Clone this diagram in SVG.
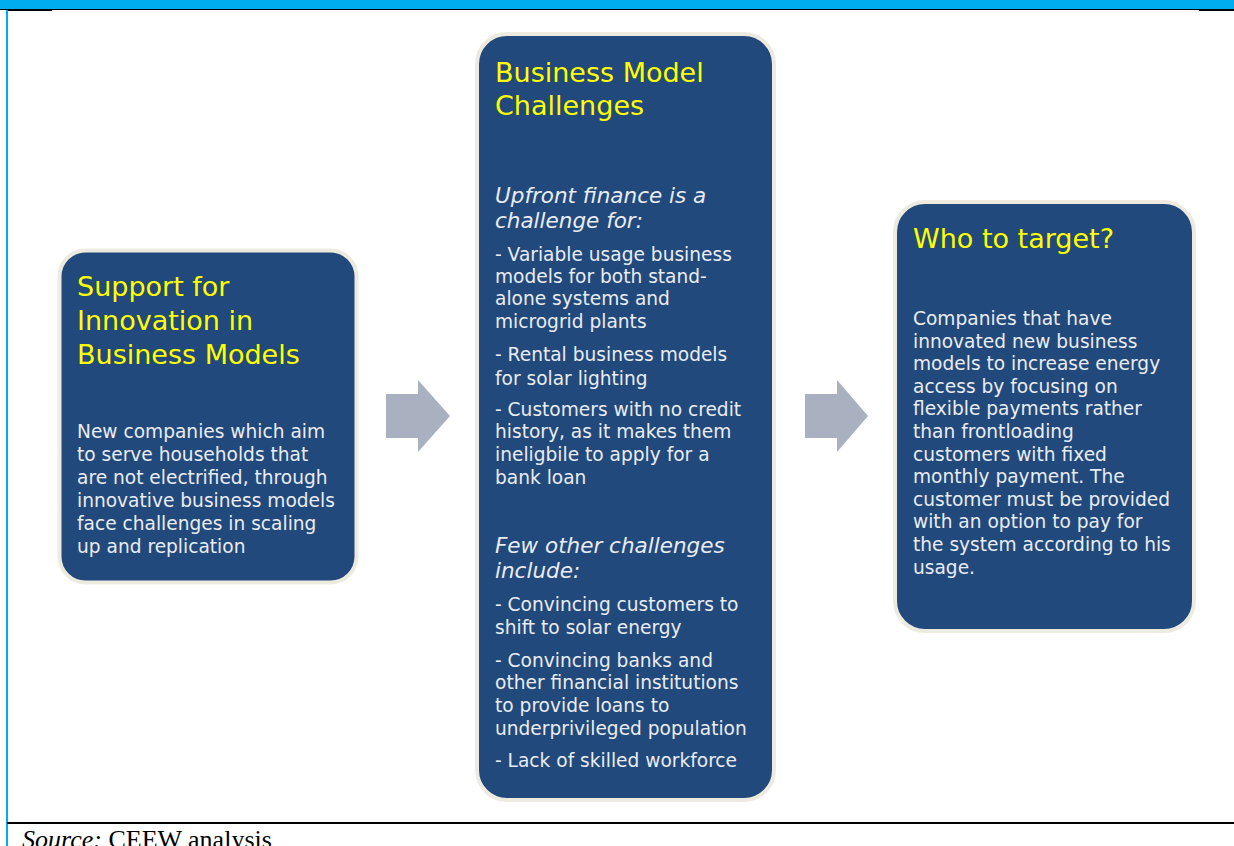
<svg xmlns="http://www.w3.org/2000/svg" width="1234" height="846" viewBox="0 0 1234 846">
<style>
.box{fill:#22497B;stroke:#EDEBE0;stroke-width:4}
.ttl{font-family:"DejaVu Sans",Verdana,sans-serif;font-size:27px;fill:#FFFF00}
.bd{font-family:"DejaVu Sans",Verdana,sans-serif;font-size:18.6px;fill:#E9ECF2}
.it{font-family:"DejaVu Sans",Verdana,sans-serif;font-size:21.5px;font-style:italic;fill:#E9ECF2}
.arr{fill:#A9B0C0}
</style>
<rect x="0" y="0" width="1234" height="846" fill="#FFFFFF"/>
<g id="frame">
<rect x="0" y="0" width="1234" height="9" fill="#00AEEF"/>
<line x1="0" y1="9.5" x2="1234" y2="9.5" stroke="#000" stroke-width="1"/>
<line x1="7" y1="10" x2="52" y2="10" stroke="#000" stroke-width="2"/>
<line x1="1199" y1="10" x2="1234" y2="10" stroke="#000" stroke-width="2"/>
<line x1="7" y1="10" x2="7" y2="846" stroke="#00AEEF" stroke-width="2"/>
<line x1="7" y1="823" x2="1234" y2="823" stroke="#000" stroke-width="2"/>
<text x="22" y="848" font-family="Liberation Serif,serif" font-size="26" fill="#000"><tspan font-style="italic">Source:</tspan> CEEW analysis</text>
</g>
<g id="node-support">
<rect class="box" x="59.5" y="250.5" width="297" height="332" rx="26"/>
<text class="ttl"><tspan x="77" y="296">Support for</tspan><tspan x="77" y="330">Innovation in</tspan><tspan x="77" y="364">Business Models</tspan></text>
<text class="bd"><tspan x="77" y="438">New companies which aim</tspan><tspan x="77" y="461">to serve households that</tspan><tspan x="77" y="484">are not electrified, through</tspan><tspan x="77" y="507">innovative business models</tspan><tspan x="77" y="530">face challenges in scaling</tspan><tspan x="77" y="553">up and replication</tspan></text>
</g>
<g id="node-challenges">
<rect class="box" x="477" y="34" width="297" height="766" rx="30"/>
<text class="ttl"><tspan x="495" y="82">Business Model</tspan><tspan x="495" y="115">Challenges</tspan></text>
<text class="it"><tspan x="495" y="203">Upfront finance is a</tspan><tspan x="495" y="228">challenge for:</tspan></text>
<text class="bd"><tspan x="495" y="261">- Variable usage business</tspan><tspan x="495" y="283">models for both stand-</tspan><tspan x="495" y="305">alone systems and</tspan><tspan x="495" y="328">microgrid plants</tspan><tspan x="495" y="361">- Rental business models</tspan><tspan x="495" y="385">for solar lighting</tspan><tspan x="495" y="416">- Customers with no credit</tspan><tspan x="495" y="438">history, as it makes them</tspan><tspan x="495" y="461">ineligbile to apply for a</tspan><tspan x="495" y="484">bank loan</tspan></text>
<text class="it"><tspan x="495" y="553">Few other challenges</tspan><tspan x="495" y="578">include:</tspan></text>
<text class="bd"><tspan x="495" y="611">- Convincing customers to</tspan><tspan x="495" y="634">shift to solar energy</tspan><tspan x="495" y="667">- Convincing banks and</tspan><tspan x="495" y="689">other financial institutions</tspan><tspan x="495" y="712">to provide loans to</tspan><tspan x="495" y="735">underprivileged population</tspan><tspan x="495" y="767">- Lack of skilled workforce</tspan></text>
</g>
<g id="node-target">
<rect class="box" x="895" y="202" width="299" height="429" rx="30"/>
<text class="ttl"><tspan x="913" y="248">Who to target?</tspan></text>
<text class="bd"><tspan x="913" y="325">Companies that have</tspan><tspan x="913" y="347.6">innovated new business</tspan><tspan x="913" y="370.2">models to increase energy</tspan><tspan x="913" y="392.8">access by focusing on</tspan><tspan x="913" y="415.4">flexible payments rather</tspan><tspan x="913" y="438">than frontloading</tspan><tspan x="913" y="460.6">customers with fixed</tspan><tspan x="913" y="483.2">monthly payment. The</tspan><tspan x="913" y="505.8">customer must be provided</tspan><tspan x="913" y="528.4">with an option to pay for</tspan><tspan x="913" y="551">the system according to his</tspan><tspan x="913" y="573.6">usage.</tspan></text>
</g>
<g id="connectors">
<polygon class="arr" points="386,394 418,394 418,380 450,416 418,452 418,438 386,438"/>
<polygon class="arr" points="805,394 837,394 837,380 868,416 837,452 837,438 805,438"/>
</g>
</svg>
